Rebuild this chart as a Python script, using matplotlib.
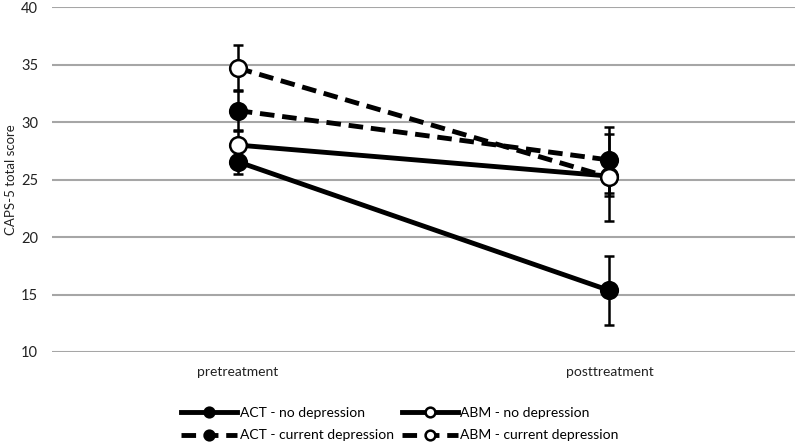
import matplotlib
matplotlib.use('Agg')

import matplotlib.pyplot as plt
from matplotlib.lines import Line2D

plt.rcParams['font.family'] = ['Lato', 'DejaVu Sans']

# data
timepoints = ['pretreatment', 'posttreatment']
groups = ['ACT - no depression', 'ABM - no depression',
          'ACT - current depression', 'ABM - current depression']
act_nodep = [26.55, 15.35]
act_nodep_err = [1.05, 3.0]
abm_nodep = [28.0, 25.3]
abm_nodep_err = [1.3, 1.7]
act_dep = [31.0, 26.7]
act_dep_err = [1.75, 2.9]
abm_dep = [34.7, 25.2]
abm_dep_err = [2.0, 3.8]

series = [act_nodep, abm_nodep, act_dep, abm_dep]
errors = [act_nodep_err, abm_nodep_err, act_dep_err, abm_dep_err]
styles = [('-', 'black'), ('-', 'white'), ('--', 'black'), ('--', 'white')]

fig = plt.figure(figsize=(8, 4.45), dpi=100)
ax = fig.add_axes([0.065, 0.209, 0.929, 0.775])

x = [0, 1]
for vals, err in zip(series, errors):
    ax.errorbar(x, vals, yerr=err, fmt='none', ecolor='black', elinewidth=1.8,
                capsize=3.5, capthick=1.8, zorder=2)
for vals, (ls, fc) in zip(series, styles):
    ax.plot(x, vals, linestyle=ls, color='black', linewidth=3.5,
            dashes=(3, 1.6) if ls == '--' else (None, None),
            marker='o', markersize=12, markerfacecolor=fc,
            markeredgecolor='black', markeredgewidth=1.8, zorder=3)

ax.set_xlim(-0.5, 1.5)
ax.set_ylim(10, 40)
ax.set_yticks(range(10, 41, 5))
ax.set_xticks(x)
ax.set_xticklabels(timepoints, fontsize=10, color='#222222')
ax.tick_params(axis='y', labelsize=10.5, colors='#222222', length=0, pad=10)
ax.tick_params(axis='x', length=0, pad=10)
ax.yaxis.grid(True, color='#a6a6a6', linewidth=1.5)
ax.set_axisbelow(True)
for s in ax.spines.values():
    s.set_visible(False)
ax.set_ylabel('CAPS-5 total score', fontsize=9.5, color='#222222')
ax.yaxis.set_label_coords(-0.047, 0.5)

handles = []
for (ls, fc) in styles:
    handles.append(Line2D([], [], linestyle=ls, color='black', linewidth=3.5,
                          dashes=(3, 1.6) if ls == '--' else (None, None),
                          marker='o', markersize=7, markerfacecolor=fc,
                          markeredgecolor='black', markeredgewidth=1.8))
# matplotlib fills legend columns first, so reorder to get rows like the reference
order = [0, 2, 1, 3]
fig.legend([handles[i] for i in order], [groups[i] for i in order],
           loc='lower center', bbox_to_anchor=(0.5, -0.02),
           ncol=2, frameon=False, fontsize=10, handlelength=4,
           handletextpad=0.2, columnspacing=0.6, labelspacing=0.75)

plt.savefig('out.png', dpi=100)
